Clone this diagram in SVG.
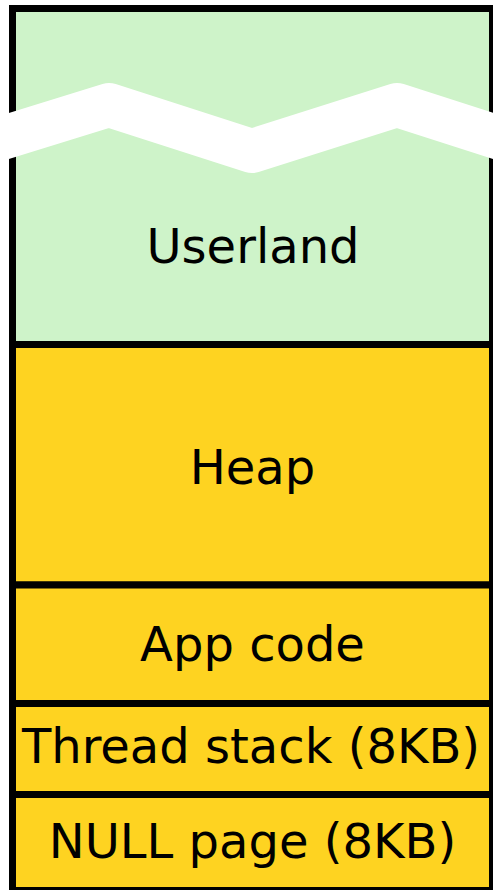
<svg xmlns="http://www.w3.org/2000/svg" width="493" height="890" viewBox="0 0 493 890">
<style>
.box{stroke:#000;stroke-width:7}
.user{fill:#cef3c9}
.seg{fill:#fed321}
.lbl{font-family:"DejaVu Sans",sans-serif;font-size:48px;fill:#000;text-anchor:middle}
</style>
<rect width="493" height="890" fill="#fff"/>
<g id="userland">
<rect class="box user" x="12.5" y="8.5" width="480" height="336"/>
<path d="M-40,151 L109,105 L252,151 L397,105 L540,151" fill="none" stroke="#fff" stroke-width="44" stroke-linejoin="round"/>
<text class="lbl" x="253" y="263">Userland</text>
</g>
<g id="heap">
<rect class="box seg" x="12.5" y="344.5" width="480" height="240.5"/>
<text class="lbl" x="252.5" y="484">Heap</text>
</g>
<g id="appcode">
<rect class="box seg" x="12.5" y="585" width="480" height="118.5"/>
<text class="lbl" x="252.5" y="661">App code</text>
</g>
<g id="threadstack">
<rect class="box seg" x="12.5" y="703.5" width="480" height="91"/>
<text class="lbl" x="251" y="763">Thread stack (8KB)</text>
</g>
<g id="nullpage">
<rect class="box seg" x="12.5" y="794.5" width="480" height="96"/>
<text class="lbl" x="252.5" y="858">NULL page (8KB)</text>
</g>
<g id="connectors"/>
</svg>
